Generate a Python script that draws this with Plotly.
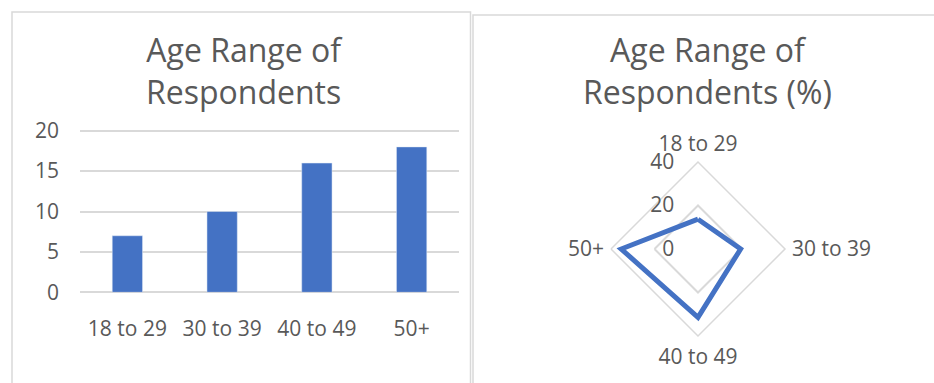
import plotly.graph_objects as go

# Survey counts by age band
age_groups = ["18 to 29", "30 to 39", "40 to 49", "50+"]
respondents = [7, 10, 16, 18]
total = sum(respondents)
percent = [round(v / total * 100, 1) for v in respondents]

y_ticks = [0, 5, 10, 15, 20]
r_ticks = [0, 20, 40]

W, H = 934, 383
BLUE = "#4472C4"
GRID = "#D9D9D9"
TEXT = "#595959"
FONT = "Open Sans"


def px_x(x):
    return x / W


def px_y(y):
    return 1 - y / H


fig = go.Figure()

fig.add_trace(go.Bar(
    x=age_groups, y=respondents, marker_color=BLUE, width=0.32,
    xaxis="x", yaxis="y", showlegend=False,
))

# Radar closes the loop back to the first band
fig.add_trace(go.Scatterpolar(
    r=percent + percent[:1], theta=age_groups + age_groups[:1],
    mode="lines", line=dict(color=BLUE, width=5),
    subplot="polar", showlegend=False,
))

fig.update_layout(
    width=W, height=H,
    margin=dict(l=0, r=0, t=0, b=0, autoexpand=False),
    paper_bgcolor="white", plot_bgcolor="white",
    font=dict(family=FONT, color=TEXT, size=21),
    xaxis=dict(
        domain=[px_x(80), px_x(459)], anchor="y", automargin=False,
        showgrid=False, showline=False, zeroline=False,
        ticks="", ticklabelstandoff=22,
        tickfont=dict(size=21, color=TEXT),
    ),
    yaxis=dict(
        # a little headroom above 20 so the top gridline stays inside the plot
        domain=[px_y(292.3), px_y(126.7)], anchor="x", automargin=False,
        range=[0, 20.5], tickvals=y_ticks,
        showgrid=True, gridcolor=GRID, gridwidth=1.5,
        zeroline=True, zerolinecolor=GRID, zerolinewidth=1.5,
        showline=False, ticks="", ticklabelstandoff=20,
        tickfont=dict(size=21, color=TEXT),
    ),
    polar=dict(
        domain=dict(x=[px_x(611), px_x(785)], y=[px_y(336), px_y(162)]),
        bgcolor="white",
        gridshape="linear",
        radialaxis=dict(
            range=[0, 40], tickvals=r_ticks, angle=90,
            showline=False, showgrid=True, gridcolor=GRID, gridwidth=1.5,
            ticks="outside", ticklen=16, tickcolor="rgba(0,0,0,0)",
            side="counterclockwise", tickangle=90,
            tickfont=dict(size=21, color=TEXT),
        ),
        angularaxis=dict(
            rotation=90, direction="clockwise",
            showgrid=False, showline=True, linecolor=GRID, linewidth=1.5,
            ticks="outside", ticklen=2, tickcolor="rgba(0,0,0,0)",
            tickfont=dict(size=21, color=TEXT),
        ),
    ),
    bargap=0.68,
)

# Chart titles
title_font = dict(size=32, color=TEXT, family=FONT)
fig.add_annotation(
    x=px_x(245), y=px_y(70), xref="paper", yref="paper",
    xanchor="center", yanchor="middle",
    text="Age Range of<br>Respondents", showarrow=False,
    font=title_font, align="center",
)
fig.add_annotation(
    x=px_x(707), y=px_y(70), xref="paper", yref="paper",
    xanchor="center", yanchor="middle",
    text="Age Range of<br>Respondents (%)", showarrow=False,
    font=title_font, align="center",
)

# Panel borders
fig.add_shape(type="rect", xref="paper", yref="paper",
              x0=px_x(12), x1=px_x(470.5), y0=px_y(400), y1=px_y(12),
              line=dict(color=GRID, width=1.5), layer="below")
fig.add_shape(type="rect", xref="paper", yref="paper",
              x0=px_x(473), x1=px_x(960), y0=px_y(400), y1=px_y(15),
              line=dict(color=GRID, width=1.5), layer="below")

fig.write_html("out.html")
